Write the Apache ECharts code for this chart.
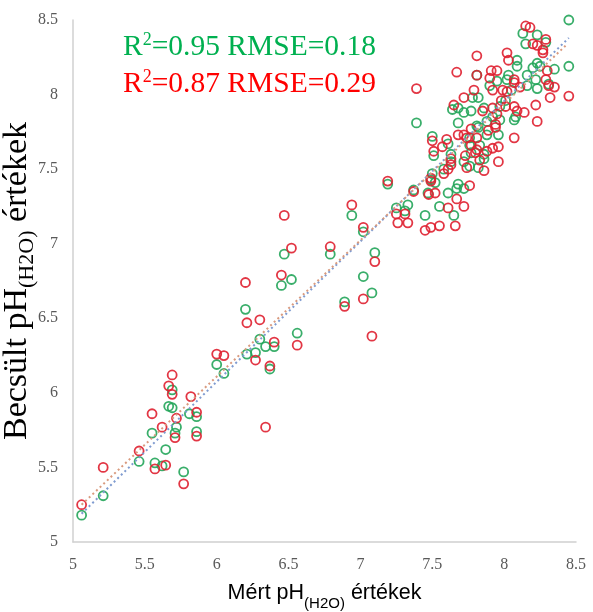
<!DOCTYPE html>
<html>
<head>
<meta charset="utf-8">
<script src="https://cdn.jsdelivr.net/npm/echarts@6/dist/echarts.min.js"></script>
<style>
html,body{margin:0;padding:0;background:#fff;}
#chart{width:593px;height:612px;}
</style>
</head>
<body>
<div id="chart"></div>
<script>
const greenSeries = [
[5.06,5.18],[5.21,5.31],[5.46,5.54],[5.57,5.53],[5.62,5.51],[5.645,5.62],[5.77,5.47],[5.55,5.73],
[5.71,5.73],[5.72,5.77],[5.86,5.74],[5.666,5.91],[5.69,5.90],[5.69,6.02],[5.81,5.86],[5.86,5.84],
[6.00,6.19],[6.05,6.13],[6.20,6.56],[6.21,6.26],[6.27,6.27],[6.30,6.36],[6.34,6.31],[6.40,6.31],
[6.37,6.16],[6.45,6.72],[6.47,6.93],[6.52,6.76],[6.56,6.40],[6.79,6.93],[6.89,6.61],[6.94,7.19],
[7.02,6.78],[7.02,7.08],[7.08,6.67],[7.10,6.94],[7.19,7.40],[7.25,7.24],[7.31,7.22],[7.33,7.26],
[7.37,7.36],[7.45,7.19],[7.47,7.34],[7.49,7.43],[7.50,7.47],[7.52,7.41],[7.55,7.25],[7.61,7.34],
[7.65,7.19],[7.67,7.37],[7.68,7.40],[7.72,7.37],[7.39,7.81],[7.50,7.72],[7.51,7.59],[7.58,7.50],
[7.61,7.67],[7.63,7.60],[7.63,7.55],[7.64,7.90],[7.68,7.91],[7.68,7.81],[7.72,7.88],[7.72,7.55],
[7.76,7.52],[7.76,7.71],[7.76,7.66],[7.77,7.61],[7.77,7.89],[7.78,7.98],[7.81,7.79],[7.81,8.13],
[7.82,7.98],[7.82,7.78],[7.82,7.51],[7.83,7.66],[7.86,7.91],[7.86,7.60],[7.86,7.57],[7.88,7.82],
[7.88,7.73],[7.90,8.06],[7.92,7.85],[7.95,8.09],[7.96,7.73],[7.97,7.92],[7.97,7.83],[8.01,7.96],
[8.02,8.10],[8.03,8.13],[8.05,8.03],[8.07,7.83],[8.08,7.85],[8.09,8.23],[8.09,8.19],[8.13,8.41],
[8.15,8.34],[8.16,8.13],[8.16,8.06],[8.20,8.18],[8.22,8.10],[8.23,8.40],[8.23,8.21],[8.23,8.04],
[8.25,8.19],[8.29,8.35],[8.31,8.07],[8.35,8.17],[8.45,8.50],[8.45,8.19]
];
const redSeries = [
[5.06,5.25],[5.21,5.50],[5.46,5.61],[5.57,5.49],[5.645,5.515],[5.77,5.39],[5.62,5.77],[5.55,5.86],
[5.71,5.70],[5.72,5.83],[5.86,5.87],[5.86,5.71],[5.82,5.975],[5.69,5.99],[5.666,6.047],[5.69,6.12],
[6.00,6.26],[6.05,6.25],[6.20,6.74],[6.21,6.47],[6.27,6.22],[6.30,6.49],[6.34,5.77],[6.37,6.18],
[6.40,6.34],[6.45,6.79],[6.47,7.19],[6.52,6.97],[6.56,6.32],[6.79,6.98],[6.89,6.58],[6.94,7.26],
[7.02,6.63],[7.02,7.11],[7.08,6.38],[7.10,6.88],[7.19,7.42],[7.25,7.20],[7.26,7.14],[7.31,7.20],
[7.33,7.14],[7.37,7.35],[7.39,8.04],[7.45,7.09],[7.475,7.33],[7.49,7.42],[7.49,7.11],[7.49,7.44],
[7.52,7.34],[7.55,7.12],[7.61,7.24],[7.66,7.12],[7.67,7.30],[7.72,7.25],[7.76,7.39],[7.50,7.69],
[7.51,7.62],[7.57,7.65],[7.58,7.47],[7.60,7.70],[7.61,7.50],[7.63,7.57],[7.63,7.53],[7.65,7.93],
[7.67,8.15],[7.68,7.73],[7.72,7.98],[7.72,7.73],[7.73,7.59],[7.74,7.71],[7.74,7.51],[7.77,7.77],
[7.77,7.66],[7.79,8.03],[7.80,7.61],[7.81,8.26],[7.81,8.13],[7.81,7.71],[7.81,7.63],[7.83,7.56],
[7.85,7.89],[7.86,7.49],[7.88,7.62],[7.89,7.76],[7.90,8.11],[7.91,8.16],[7.92,8.03],[7.92,7.91],
[7.92,7.64],[7.94,7.80],[7.94,7.78],[7.95,8.16],[7.95,7.87],[7.96,7.65],[7.96,7.55],[7.98,7.96],
[7.99,8.03],[8.01,7.92],[8.02,8.28],[8.02,8.02],[8.03,8.23],[8.07,8.10],[8.07,8.08],[8.07,7.92],
[8.07,7.71],[8.09,7.89],[8.11,8.05],[8.14,7.88],[8.15,8.46],[8.18,8.45],[8.20,8.34],[8.22,7.93],
[8.23,8.33],[8.23,7.82],[8.27,8.30],[8.27,8.28],[8.29,8.37],[8.29,8.10],[8.30,8.16],[8.31,8.06],
[8.32,7.98],[8.35,8.05],[8.45,7.99]
];
// Trend line end points
const greenTrend = [[5.06,5.19],[8.45,8.38]];
const redTrend = [[5.06,5.25],[8.43,8.33]];
const axisTicks = {min:5, max:8.5, interval:0.5};
const statsGreen = ['R','2','=0.95 RMSE=0.18'];
const statsRed = ['R','2','=0.87 RMSE=0.29'];

const chart = echarts.init(document.getElementById('chart'), null, {renderer:'canvas'});
const serif = '"Liberation Serif","Times New Roman",serif';
const sans = '"Liberation Sans",Arial,sans-serif';
const GREEN = '#23a55a', RED = '#df2030';

function statRich(color){
  return {
    a:{fontFamily:serif,fontSize:29.5,fill:color,lineHeight:36},
    s:{fontFamily:serif,fontSize:18,fill:color,verticalAlign:'top',lineHeight:36,padding:[2,0,0,0]}
  };
}

chart.setOption({
  animation:false,
  backgroundColor:'#fff',
  grid:{left:73,right:17,top:20,bottom:70,containLabel:false,outerBoundsMode:'none'},
  xAxis:{
    type:'value',min:axisTicks.min,max:axisTicks.max,interval:axisTicks.interval,
    name:'{m|Mért pH}{s|(H2O)}{m| értékek}',
    nameLocation:'middle',nameGap:37,nameMoveOverlap:false,
    nameTextStyle:{
      rich:{
        m:{fontFamily:sans,fontSize:21.5,color:'#000',lineHeight:28},
        s:{fontFamily:sans,fontSize:15,color:'#000',verticalAlign:'bottom',lineHeight:28,padding:[0,0,-4,0]}
      }
    },
    axisLine:{show:true,lineStyle:{color:'#d0d0d0',width:1.5}},
    axisTick:{show:false},
    splitLine:{show:false},
    axisLabel:{fontFamily:serif,fontSize:16,color:'#595959',margin:15}
  },
  yAxis:{
    type:'value',min:axisTicks.min,max:axisTicks.max,interval:axisTicks.interval,
    name:'{m|Becsült pH}{s|(H2O)}{m| értékek}',
    nameLocation:'middle',nameGap:39,nameRotate:90,nameMoveOverlap:false,
    nameTextStyle:{
      rich:{
        m:{fontFamily:serif,fontSize:34,color:'#000',lineHeight:34},
        s:{fontFamily:serif,fontSize:22,color:'#000',verticalAlign:'bottom',lineHeight:34,padding:[0,0,-4,0]}
      }
    },
    axisLine:{show:true,lineStyle:{color:'#d0d0d0',width:1.5}},
    axisTick:{show:false},
    splitLine:{show:false},
    axisLabel:{fontFamily:serif,fontSize:16,color:'#595959',margin:15}
  },
  graphic:[
    {type:'text',left:123,top:29,style:{
      text:'{a|'+statsGreen[0]+'}{s|'+statsGreen[1]+'}{a|'+statsGreen[2]+'}',
      fill:'#00b050',rich:statRich('#00b050')}},
    {type:'text',left:123,top:66,style:{
      text:'{a|'+statsRed[0]+'}{s|'+statsRed[1]+'}{a|'+statsRed[2]+'}',
      fill:'#ff0000',rich:statRich('#ff0000')}}
  ],
  series:[
    {type:'scatter',data:greenSeries,symbol:'circle',symbolSize:9,
     itemStyle:{color:'rgba(255,255,255,0)',borderColor:GREEN,borderWidth:1.8,opacity:0.9},z:2},
    {type:'scatter',data:redSeries,symbol:'circle',symbolSize:9,
     itemStyle:{color:'rgba(255,255,255,0)',borderColor:RED,borderWidth:1.8,opacity:0.9},z:3},
    {type:'line',data:greenTrend,symbol:'none',silent:true,
     lineStyle:{color:'#7f9bd0',width:2,type:[2,3]},z:4},
    {type:'line',data:redTrend,symbol:'none',silent:true,
     lineStyle:{color:'#d99a7e',width:2,type:[2,3]},z:4}
  ]
});
</script>
</body>
</html>
